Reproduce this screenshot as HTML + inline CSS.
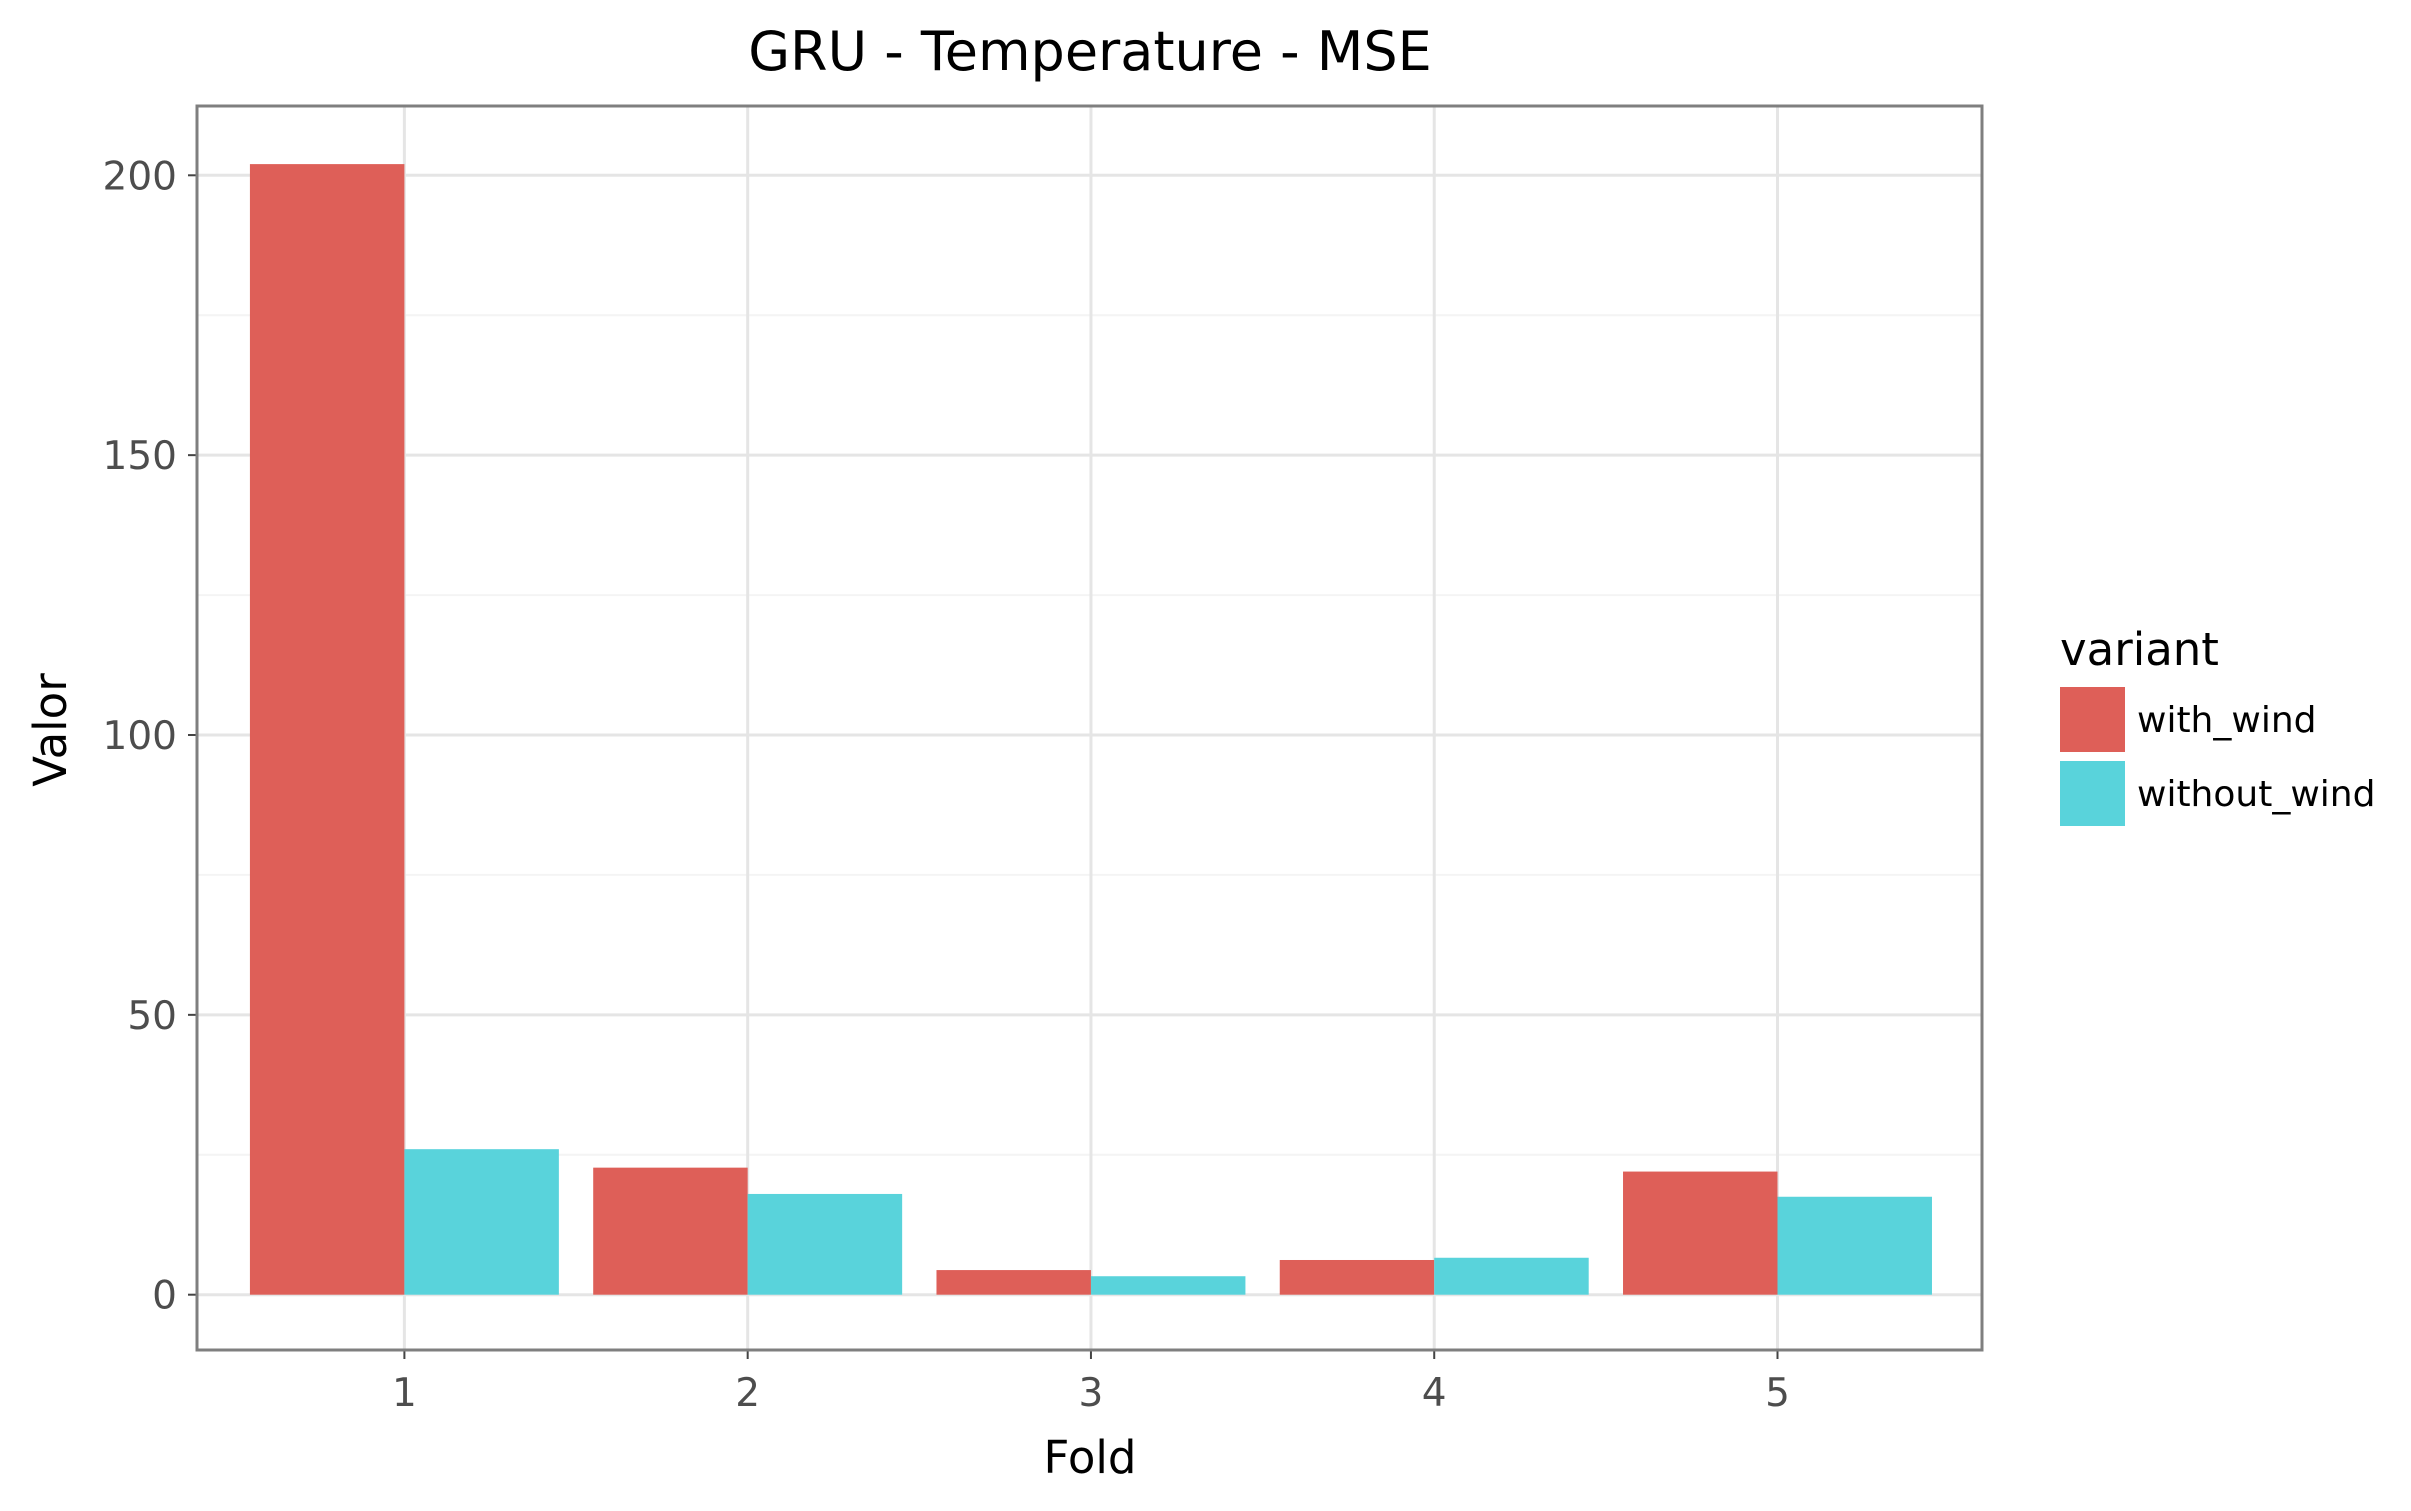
<!DOCTYPE html>
<html><head><meta charset="utf-8"><style>
body{margin:0;background:#fff;}
svg{display:block;font-family:"DejaVu Sans","Liberation Sans",sans-serif;}
</style></head><body>
<svg id="chart" width="2411" height="1511">
<text x="1090" y="70" font-size="54" text-anchor="middle" fill="#000">GRU - Temperature - MSE</text>
<text x="1090" y="1473" font-size="45" text-anchor="middle" fill="#000">Fold</text>
<text x="0" y="0" font-size="45" text-anchor="middle" fill="#000" transform="translate(66,730) rotate(-90)">Valor</text>
<g>
<text x="2060" y="665" font-size="45" fill="#000">variant</text>
<rect x="2060" y="687" width="65" height="65" fill="#DE5F58"/>
<text x="2137" y="732" font-size="36" fill="#000">with_wind</text>
<rect x="2060" y="761" width="65" height="65" fill="#59D3DB"/>
<text x="2137" y="806" font-size="36" fill="#000">without_wind</text>
</g>
</svg>
<script>
const folds = ["1","2","3","4","5"];
const withWind = [202, 22.7, 4.4, 6.2, 22];
const withoutWind = [26, 18, 3.3, 6.6, 17.5];
const yTicks = [0, 50, 100, 150, 200];
const yMinor = [25, 75, 125, 175];

const NS = "http://www.w3.org/2000/svg";
const svg = document.getElementById("chart");
const L = 197, R = 1982, T = 106, B = 1350;
const y = v => 1294.7 - v * (1294.7 - 175.3) / 200;
const step = (1777.5 - 404.4) / 4;
const x = i => 404.4 + i * step;
const bw = step * 0.9 / 2;

function mk(tag, attrs, parent) {
  const e = document.createElementNS(NS, tag);
  for (const k in attrs) e.setAttribute(k, attrs[k]);
  (parent || svg).appendChild(e);
  return e;
}
const g = mk("g", {});


svg.insertBefore(g, svg.firstChild);
mk("rect", {x: L, y: T, width: R - L, height: B - T, fill: "#fff"}, g);
yMinor.forEach(v => {
  const l = mk("line", {x1: L, x2: R, y1: y(v), y2: y(v), stroke: "#f4f4f4", "stroke-width": 2}, g);
  
  
});
yTicks.forEach(v => {
  const l = mk("line", {x1: L, x2: R, y1: y(v), y2: y(v), stroke: "#e5e5e5", "stroke-width": 3}, g);
  
  
  const t = mk("line", {x1: L - 9, x2: L, y1: y(v), y2: y(v), stroke: "#444", "stroke-width": 2}, g);
  
  
  const tx = mk("text", {x: L - 20, y: y(v) + 14, "font-size": 39, "text-anchor": "end", fill: "#4d4d4d"}, g);
  tx.textContent = v;
  
  
});
folds.forEach((f, i) => {
  const l = mk("line", {x1: x(i), x2: x(i), y1: T, y2: B, stroke: "#e5e5e5", "stroke-width": 3}, g);
  
  
});
folds.forEach((f, i) => {
  const a = mk("rect", {x: x(i) - bw, y: y(withWind[i]), width: bw, height: y(0) - y(withWind[i]), fill: "#DE5F58"}, g);
  
  
  const b = mk("rect", {x: x(i), y: y(withoutWind[i]), width: bw, height: y(0) - y(withoutWind[i]), fill: "#59D3DB"}, g);
  
  
  const t = mk("line", {x1: x(i), x2: x(i), y1: B, y2: B + 9, stroke: "#444", "stroke-width": 2}, g);
  
  
  const tx = mk("text", {x: x(i), y: 1406, "font-size": 39, "text-anchor": "middle", fill: "#4d4d4d"}, g);
  tx.textContent = f;
  
  
});
const border = mk("rect", {x: L, y: T, width: R - L, height: B - T, fill: "none", stroke: "#7f7f7f", "stroke-width": 3}, g);


</script>
</body></html>
